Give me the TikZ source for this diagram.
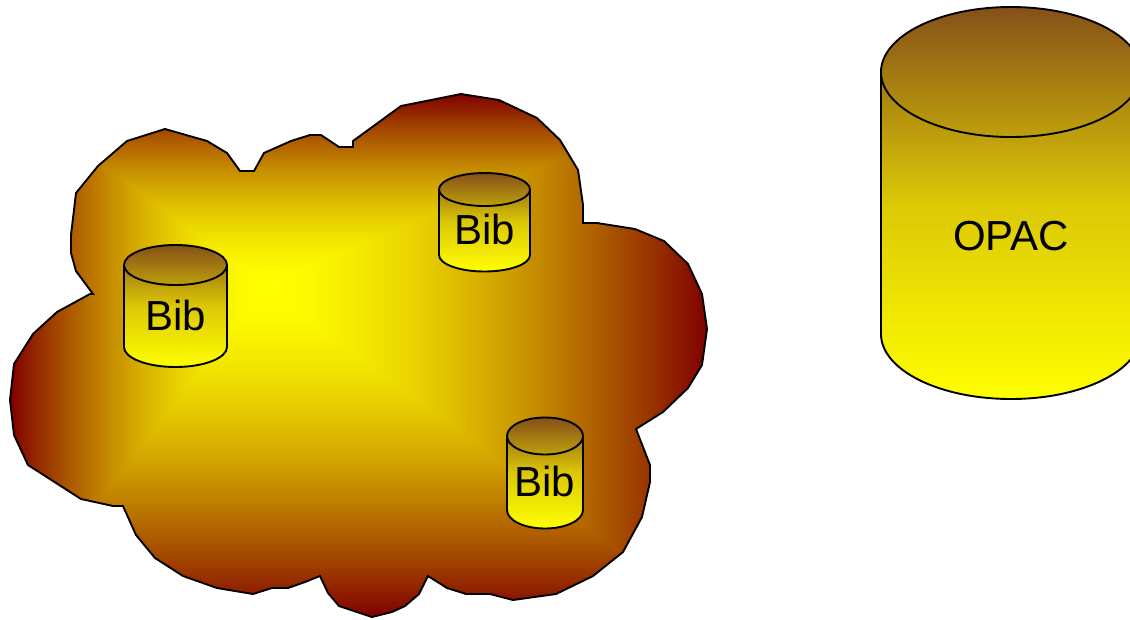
\documentclass[tikz,border=0pt]{standalone}
\usepackage{fontspec}
\setmainfont{Liberation Sans}
\pgfdeclarefunctionalshading{cloudglow}{\pgfpointorigin}{\pgfpoint{100bp}{100bp}}{}{
	56.7 sub dup 0 lt {-31.7 div}{18.3 div} ifelse
	exch 43.3 sub dup 0 lt {-18.3 div}{31.7 div} ifelse
	2 copy lt {exch} if pop
	1.6 exp
	dup 0.5 mul 1 exch sub
	exch 1 exch sub
	0
}
\definecolor{dbtop}{RGB}{133,80,24}
\definecolor{dbmid}{RGB}{220,200,6}
\tikzset{
	outline/.style={draw=black, line width=1.9pt},
	cloudshape/.style={outline, shade, shading=cloudglow},
	dbbody/.style={outline, top color=dbtop, bottom color=yellow, middle color=dbmid},
	dblabel/.style={anchor=base, inner sep=0pt, font=\fontsize{42}{50}\selectfont},
}
% name, centre x, y of top ellipse, x radius, y radius, side length, text baseline, text
\newcommand{\dbstore}[8]{
	\path[dbbody] (#2-#4,#3) arc[start angle=180, end angle=0, x radius=#4pt, y radius=#5pt]
		-- ++(0,#6) arc[start angle=360, end angle=180, x radius=#4pt, y radius=#5pt] -- cycle;
	\path[outline] (#2-#4,#3) arc[start angle=180, end angle=360, x radius=#4pt, y radius=#5pt];
	\node (#1) [dblabel] at (#2,#7) {#8};
}

\begin{document}
\begin{tikzpicture}[x=1pt, y=-1pt]
	\useasboundingbox (0,0) rectangle (1130,619);

	\path[cloudshape] (93,294) -- (76,271) -- (71,253) -- (71,235) -- (76,193) -- (98,166) -- (127,141) -- (165,129)
		-- (207,141) -- (227,153) -- (240,171) -- (254,171) -- (264,153) -- (291,141) -- (310,135) -- (321,135)
		-- (339,147) -- (353,147) -- (353,141) -- (401,106) -- (461,94) -- (499,100) -- (537,118) -- (560,140)
		-- (578,170) -- (583,205) -- (583,223) -- (597,223) -- (635,229) -- (664,241) -- (688,264) -- (702,294)
		-- (707,329) -- (702,365) -- (688,388) -- (663,412) -- (636,429) -- (650,465) -- (650,482) -- (642,517)
		-- (623,552) -- (593,576) -- (556,594) -- (513,600) -- (490,594) -- (466,594) -- (447,588) -- (428,576)
		-- (419,594) -- (405,606) -- (392,612) -- (372,617) -- (339,606) -- (328,593) -- (320,576) -- (305,582)
		-- (288,588) -- (272,588) -- (253,594) -- (217,588) -- (183,576) -- (155,558) -- (136,535) -- (123,506)
		-- (113,506) -- (81,499) -- (28,465) -- (14,435) -- (10,400) -- (14,364) -- (33,334) -- (57,312) -- (90,294) -- cycle;

	\dbstore{bib1}{175.5}{265}{51.5}{20}{82}{330}{Bib}
	\dbstore{bib2}{484.5}{189.5}{45.5}{16.5}{65.5}{244}{Bib}
	\dbstore{bib3}{545}{436}{38}{18.5}{74}{496}{Bib}
	\dbstore{opac}{1011}{72}{130}{65}{262}{250}{OPAC}
\end{tikzpicture}
\end{document}
